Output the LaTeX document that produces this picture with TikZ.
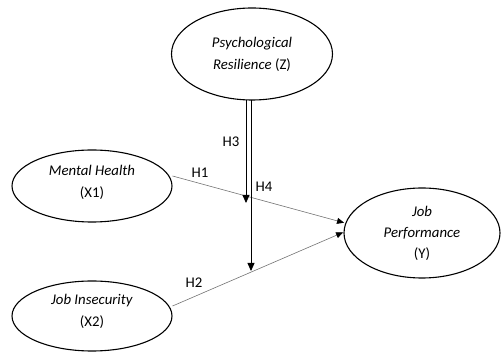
\documentclass[tikz,border=0pt]{standalone}
\usepackage{fontspec}
\setmainfont{Carlito}
\usetikzlibrary{shapes.geometric,arrows.meta}
\begin{document}
\begin{tikzpicture}[x=1pt,y=1pt,
  var/.style={draw=black,line width=1.1pt,ellipse,inner sep=0pt,align=center,
    font=\fontsize{14.8}{22}\selectfont},
  path/.style={draw=black!55,line width=0.6pt,-{Triangle[length=7pt,width=6pt,black]},shorten >=1pt},
  modline/.style={draw=black,line width=0.8pt,-{Triangle[length=8pt,width=7pt]}},
  lab/.style={font=\fontsize{14.8}{17}\selectfont,inner sep=0pt}]
\useasboundingbox (0,0) rectangle (501,-352);
\node[var,minimum width=161pt,minimum height=92pt] (Z) at (252,-54) {\textit{Psychological}\\\textit{Resilience} (Z)};
\node[var,minimum width=160pt,minimum height=72pt] (X1) at (92,-186) {\textit{Mental Health}\\(X1)\rule[-10pt]{0pt}{0pt}};
\node[var,minimum width=160pt,minimum height=70pt] (X2) at (92,-316) {\textit{Job Insecurity}\\(X2)\rule[-12pt]{0pt}{0pt}};
\node[var,minimum width=156pt,minimum height=90pt,font=\fontsize{14.8}{21}\selectfont] (Y) at (422,-233) {\textit{Job}\\\textit{Performance}\\(Y)};
\coordinate (y1) at (345,-223);
\coordinate (y2) at (344,-232);
\draw[path] (X1.east) ++(0,10) coordinate (x1e) -- (y1);
\draw[path] (X2.east) ++(0,10) coordinate (x2e) -- (y2);
\coordinate (zl) at (246,-100);
\coordinate (zr) at (251,-100);
\coordinate (h3t) at (246,-203);
\coordinate (h4t) at (251,-271);
\draw[modline] (zl) -- (h3t);
\draw[modline] (zr) -- (h4t);
\node[lab] (H3) at (231,-142) {H3};
\node[lab] (H1) at (200,-173) {H1};
\node[lab] (H4) at (264,-187) {H4};
\node[lab] (H2) at (194,-283) {H2};
\end{tikzpicture}
\end{document}
